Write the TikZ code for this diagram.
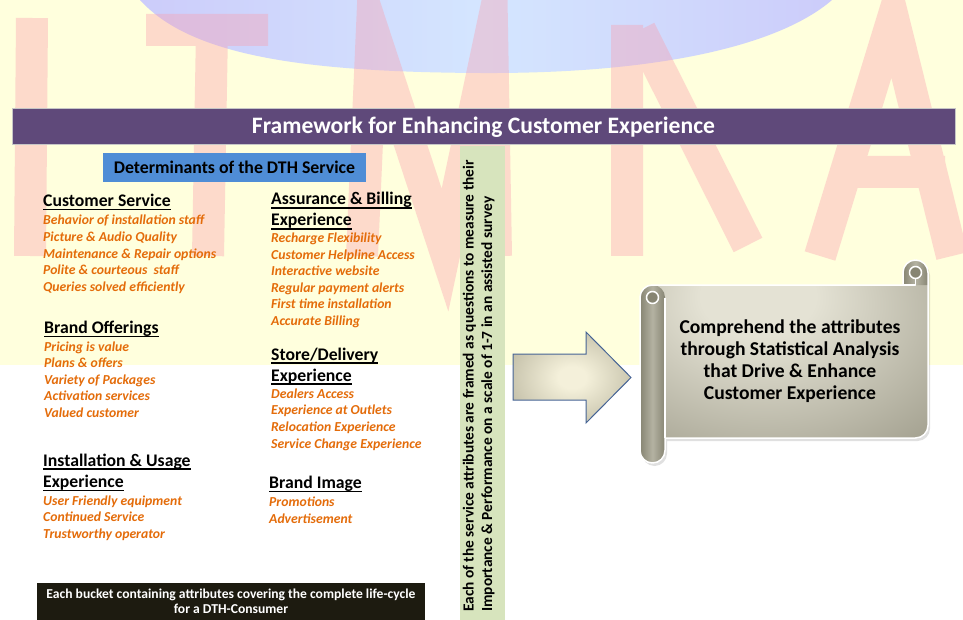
\documentclass[tikz,border=0pt]{standalone}
\usepackage{fontspec}
\setmainfont{Carlito}
\usetikzlibrary{calc}

\definecolor{bgyellow}{RGB}{255,255,221}
\definecolor{lav}{RGB}{204,204,250}
\definecolor{skyc}{RGB}{212,230,255}
\definecolor{wmpink}{RGB}{250,160,175}
\definecolor{titlepurple}{RGB}{95,73,122}
\definecolor{detblue}{RGB}{79,141,214}
\definecolor{stripgreen}{RGB}{215,228,189}
\definecolor{itemorange}{RGB}{228,108,10}
\definecolor{notebg}{RGB}{29,27,16}
\definecolor{cream}{RGB}{244,240,218}
\definecolor{olivegray}{RGB}{150,146,122}
\definecolor{arrowedge}{RGB}{70,100,150}
\definecolor{scrlight}{RGB}{228,226,212}
\definecolor{scrdark}{RGB}{118,115,96}
\definecolor{rollmid}{RGB}{180,178,162}
\definecolor{rolledge}{RGB}{135,133,115}

\pgfdeclareradialshading{arrowglow}{\pgfpoint{0bp}{0bp}}%
  {color(0bp)=(cream); color(6bp)=(cream); color(50bp)=(olivegray); color(75bp)=(olivegray)}
\pgfdeclareradialshading{scrollglow}{\pgfpoint{-5bp}{18bp}}%
  {color(0bp)=(scrlight); color(10bp)=(scrlight); color(62bp)=(scrdark); color(95bp)=(scrdark)}

% underlined heading with a fixed rule position
\newcommand\ulhead[1]{\setbox0=\hbox{#1}\rlap{\rule[-3.6pt]{\wd0}{1.3pt}}\box0}

\tikzset{
  hdr/.style={anchor=base west, inner sep=0pt, text=black,
    font=\fontsize{17.7}{20}\selectfont\bfseries},
  itm/.style={anchor=base west, inner sep=0pt, text=itemorange,
    font=\fontsize{13.7}{16}\selectfont\bfseries\itshape},
  striptext/.style={rotate=90, anchor=base west, inner sep=0pt, text=black,
    font=\fontsize{15.4}{17}\selectfont\bfseries},
  notetext/.style={anchor=base, inner sep=0pt, text=white,
    font=\fontsize{13.6}{15}\selectfont\bfseries},
  scrolledge/.style={draw=white, line width=1.5pt, line join=round},
}

\begin{document}
\begin{tikzpicture}[x=1pt, y=-1pt]
\useasboundingbox (0,0) rectangle (963,620);

% page background
\fill[bgyellow] (0,0) rectangle (963,365);
\fill[white] (0,365) rectangle (963,620);

% sky blob along the top edge
\shade[left color=lav, right color=lav, middle color=skyc]
  (140,0) .. controls (190,55) and (300,72) .. (480,73)
  .. controls (660,74) and (780,45) .. (832,0) -- cycle;

% pale watermark lettering
\begin{scope}[transparency group, opacity=0.38]
  \begin{scope}[draw=wmpink, line width=32pt, line join=miter]
    \draw (32,18) -- (30,256);
    \draw (146,30) -- (268,30);
    \draw (212,30) -- (208,256);
    \draw (362,256) -- (372,28) -- (445,250) -- (492,28) -- (496,256);
    \draw (627,256) -- (627,25);
    \draw (640,30) -- (748,245);
    \draw (820,256) -- (893,18) -- (952,256);
    \draw (835,172) -- (945,172);
  \end{scope}
\end{scope}

% title bar
\node[fill=titlepurple, draw=gray!45, line width=0.8pt, minimum width=943pt,
      minimum height=36pt, inner sep=0pt] (titlebar) at (483.5,126) {};
\node[anchor=base, inner sep=0pt, text=white,
      font=\fontsize{23.6}{26}\selectfont\bfseries] (title) at (483.5,133.5)
  {Framework for Enhancing Customer Experience};

% determinants label
\node[fill=detblue, minimum width=263pt, minimum height=29pt, inner sep=0pt,
      font=\fontsize{17.8}{20}\selectfont\bfseries] (det) at (234.5,167.5)
  {Determinants of the DTH Service};

% left column
\node[hdr] (cs) at (43,206.7) {\ulhead{Customer Service}};
\foreach \t [count=\i from 0] in {Behavior of installation staff,
    Picture \& Audio Quality, Maintenance \& Repair options,
    Polite \& courteous\ \ staff, Queries solved efficiently}
  \node[itm] (cs-\i) at (43,225+16.55*\i) {\t};

\node[hdr] (bo) at (44,333.3) {\ulhead{Brand Offerings}};
\foreach \t [count=\i from 0] in {Pricing is value, Plans \& offers,
    Variety of Packages, Activation services, Valued customer}
  \node[itm] (bo-\i) at (44,351+16.55*\i) {\t};

\node[hdr] (iu) at (43,466) {\ulhead{Installation \& Usage}};
\node[hdr] (iu2) at (43,487.3) {\ulhead{Experience}};
\foreach \t [count=\i from 0] in {User Friendly equipment,
    Continued Service, Trustworthy operator}
  \node[itm] (iu-\i) at (43,505+16.65*\i) {\t};

% right column
\node[hdr] (ab) at (271,205) {\ulhead{Assurance \& Billing}};
\node[hdr] (ab2) at (271,226) {\ulhead{Experience}};
\foreach \t [count=\i from 0] in {Recharge Flexibility,
    Customer Helpline Access, Interactive website,
    Regular payment alerts, First time installation, Accurate Billing}
  \node[itm] (ab-\i) at (271,242.7+16.5*\i) {\t};

\node[hdr] (sd) at (271,360) {\ulhead{Store/Delivery}};
\node[hdr] (sd2) at (271,381) {\ulhead{Experience}};
\foreach \t [count=\i from 0] in {Dealers Access, Experience at Outlets,
    Relocation Experience, Service Change Experience}
  \node[itm] (sd-\i) at (271,398.3+16.6*\i) {\t};

\node[hdr] (bi) at (269,488.7) {\ulhead{Brand Image}};
\foreach \t [count=\i from 0] in {Promotions, Advertisement}
  \node[itm] (bi-\i) at (269,506.7+16.6*\i) {\t};

% note box at the bottom
\node[fill=notebg, minimum width=388pt, minimum height=37pt, inner sep=0pt]
  (notebox) at (231,601.5) {};
\node[notetext] (note1) at (231,598)
  {Each bucket containing attributes covering the complete life-cycle};
\node[notetext] (note2) at (231,613.3) {for a DTH-Consumer};

% survey strip
\node[fill=stripgreen, minimum width=45pt, minimum height=474pt, inner sep=0pt]
  (strip) at (482.5,383) {};
\node[striptext] (q1) at (473.5,612)
  {Each of the service attributes are framed as questions to measure their};
\node[striptext] (q2) at (492,612)
  {Importance \& Performance on a scale of 1-7 in an assisted survey};

% block arrow
\shadedraw[shading=arrowglow, draw=arrowedge, line width=1pt, line join=miter]
  (513,354) -- (586,354) -- (586,332) -- (631,377.5) -- (586,423)
  -- (586,400) -- (513,400) -- cycle;

% scroll: soft shadow, sheet, rolls, curls
\fill[black, opacity=0.12, shift={(2,3)}]
  (652.5,285) -- (903,285) -- (903,272.5) arc[start angle=180, end angle=360, radius=12.5]
  -- (928,425.5) arc[start angle=0, end angle=90, radius=12.5]
  -- (665,438) -- (665,450.5) arc[start angle=0, end angle=180, radius=12.5]
  -- (640,297.5) arc[start angle=180, end angle=270, radius=12.5] -- cycle;
\shade[shading=scrollglow]
  (652.5,285) -- (903,285) -- (903,272.5) arc[start angle=180, end angle=360, radius=12.5]
  -- (928,425.5) arc[start angle=0, end angle=90, radius=12.5]
  -- (665,438) -- (665,450.5) arc[start angle=0, end angle=180, radius=12.5]
  -- (640,297.5) arc[start angle=180, end angle=270, radius=12.5] -- cycle;
% left roll
\shade[left color=rolledge, right color=rolledge, middle color=rollmid]
  (665,297.5) -- (665,450.5) arc[start angle=0, end angle=180, radius=12.5]
  -- (640,297.5) arc[start angle=180, end angle=360, radius=12.5] -- cycle;
% right roll top
\shade[left color=rolledge, right color=rolledge, middle color=rollmid]
  (903,285) -- (903,272.5) arc[start angle=180, end angle=360, radius=12.5]
  -- (928,285) -- cycle;
% outline
\draw[scrolledge]
  (652.5,285) -- (903,285) -- (903,272.5) arc[start angle=180, end angle=360, radius=12.5]
  -- (928,425.5) arc[start angle=0, end angle=90, radius=12.5]
  -- (665,438) -- (665,450.5) arc[start angle=0, end angle=180, radius=12.5]
  -- (640,297.5) arc[start angle=180, end angle=270, radius=12.5] -- cycle;
\draw[scrolledge] (665,297.5) -- (665,438);
\draw[scrolledge] (903,285) -- (915.5,285) -- (915.5,279);
\filldraw[scrolledge, fill=rolledge] (652.5,297.5) circle[radius=6];
\filldraw[scrolledge, fill=rolledge] (915.5,272.5) circle[radius=6];

\node[align=center, inner sep=0pt, text=black,
      font=\fontsize{19.6}{22}\selectfont\bfseries] (goal) at (790,361)
  {Comprehend the attributes\\through Statistical Analysis\\that Drive \& Enhance\\Customer Experience};
\end{tikzpicture}
\end{document}
